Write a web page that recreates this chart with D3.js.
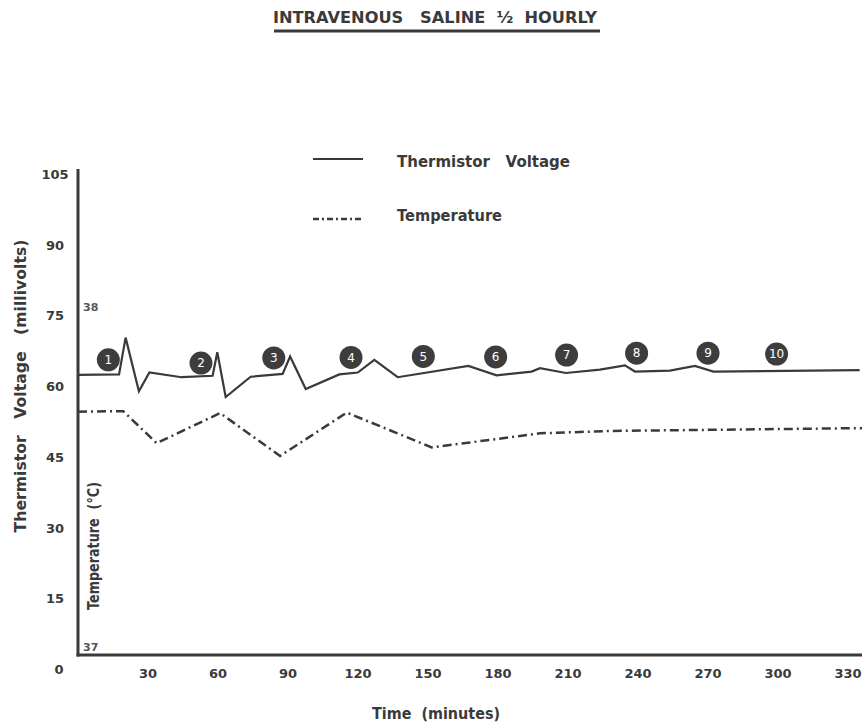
<!DOCTYPE html>
<html><head><meta charset="utf-8">
<script src="https://cdn.jsdelivr.net/npm/d3@7"></script>
<style>body{margin:0;background:#fff} text{white-space:pre}</style>
</head><body>
<svg id="c" width="864" height="725"></svg>
<script>
// ---- data ----
const timeTicks = [30,60,90,120,150,180,210,240,270,300,330];
const voltTicks = [0,15,30,45,60,75,90,105];
const tempTicks = [37,38];
const voltTime  = [0,17.6,20.4,26.1,30.6,44.4,57.7,59.7,63.3,74.0,87.7,90.9,97.6,112,119.9,127.0,137.0,167.3,179.4,194.4,198.0,209.1,223.7,234.4,238.7,253.7,264.4,272.3,335];
const voltValue = [62.5,62.6,70.4,59.0,63.0,62.0,62.3,67.3,57.8,62.1,62.7,66.4,59.5,62.6,63.0,65.7,62.0,64.4,62.4,63.2,63.9,62.9,63.6,64.5,63.2,63.4,64.4,63.2,63.5];
const tempTime  = [0,19.4,33.7,60.9,86.6,115.2,151.6,198,228,336];
const tempValue = [54.7,54.8,48.0,54.4,45.3,54.5,47.1,50.1,50.6,51.2];
const markerTime  = [13,52.7,83.9,117,148,179,209.4,239.4,270,299.4];
const markerValue = [65.7,65.0,66.1,66.2,66.4,66.3,66.7,67.1,67.1,66.9];
const markerLabel = ["1","2","3","4","5","6","7","8","9","10"];

// ---- drawing ----
const svg = d3.select("#c");
const ink = "#3a3a3a";
const font = "'DejaVu Sans', sans-serif";
const x = d3.scaleLinear().domain([0,330]).range([78,848]);
const y = d3.scaleLinear().domain([0,105]).range([669.5,174.5]);
const yT = d3.scaleLinear().domain([37,38]).range([647,307]);
const axisY = 655;

function label(sel, size, len){
  sel.attr("font-family",font).attr("font-weight","bold").attr("font-size",size).attr("fill",ink)
     .attr("xml:space","preserve");
  if (len) sel.attr("textLength",len).attr("lengthAdjust","spacingAndGlyphs");
  return sel;
}

// title
label(svg.append("text").attr("x",273).attr("y",23), 16, 324)
  .text("INTRAVENOUS   SALINE  ½  HOURLY");
svg.append("line").attr("x1",274).attr("x2",600).attr("y1",31).attr("y2",31)
  .attr("stroke",ink).attr("stroke-width",3);

// axes lines
svg.append("line").attr("x1",x(0)).attr("x2",x(0)).attr("y1",169).attr("y2",axisY+1.5)
  .attr("stroke",ink).attr("stroke-width",3);
svg.append("line").attr("x1",x(0)-1.5).attr("x2",862).attr("y1",axisY).attr("y2",axisY)
  .attr("stroke",ink).attr("stroke-width",3);

// y ticks
label(svg.append("g").selectAll("text").data(voltTicks).join("text")
  .attr("x",d=> d===0 ? 59 : 55).attr("y",d=>y(d)).attr("dy","0.35em")
  .attr("text-anchor","middle"), 13).text(d=>d);
// x ticks
label(svg.append("g").selectAll("text").data(timeTicks).join("text")
  .attr("x",d=>x(d)).attr("y",673).attr("dy","0.35em")
  .attr("text-anchor","middle"), 13).text(d=>d);
// temperature ticks
svg.append("g").selectAll("text").data(tempTicks).join("text")
  .attr("x",83).attr("y",d=>yT(d)).attr("dy","0.35em")
  .attr("font-family",font).attr("font-weight","bold")
  .attr("font-size",11).attr("fill","#555").text(d=>d);

// axis titles
label(svg.append("text").attr("transform","translate(26,386) rotate(-90)")
  .attr("text-anchor","middle"), 15, 293).text("Thermistor   Voltage   (millivolts)");
label(svg.append("text").attr("transform","translate(99,546) rotate(-90)")
  .attr("text-anchor","middle"), 15, 128).text("Temperature  (°C)");
label(svg.append("text").attr("x",436).attr("y",714).attr("dy","0.35em")
  .attr("text-anchor","middle"), 15, 128).text("Time  (minutes)");

// lines
const lineV = d3.line().x(i=>x(voltTime[i])).y(i=>y(voltValue[i]));
svg.append("path").attr("d",lineV(d3.range(voltTime.length)))
  .attr("fill","none").attr("stroke",ink).attr("stroke-width",2.2).attr("stroke-linejoin","miter");
const lineT = d3.line().x(i=>x(tempTime[i])).y(i=>y(tempValue[i]));
svg.append("path").attr("d",lineT(d3.range(tempTime.length)))
  .attr("fill","none").attr("stroke",ink).attr("stroke-width",2.5).attr("stroke-dasharray","9,4,2,4");

// markers
const mg = svg.append("g").selectAll("g").data(d3.range(markerTime.length)).join("g")
  .attr("transform",i=>`translate(${x(markerTime[i])},${y(markerValue[i])})`);
mg.append("circle").attr("r",11.5).attr("fill","#3d3d3d");
mg.append("text").attr("text-anchor","middle").attr("dy","0.36em")
  .attr("font-family",font).attr("font-size",12).attr("fill","#fff").text(i=>markerLabel[i]);

// legend
svg.append("line").attr("x1",313).attr("x2",363).attr("y1",159).attr("y2",159)
  .attr("stroke",ink).attr("stroke-width",2.2);
label(svg.append("text").attr("x",397).attr("y",162).attr("dy","0.35em"), 15, 173)
  .text("Thermistor   Voltage");
svg.append("line").attr("x1",313).attr("x2",363).attr("y1",219).attr("y2",219)
  .attr("stroke",ink).attr("stroke-width",2.5).attr("stroke-dasharray","6,3,2,3");
label(svg.append("text").attr("x",397).attr("y",216).attr("dy","0.35em"), 15, 105)
  .text("Temperature");
</script>
</body></html>
